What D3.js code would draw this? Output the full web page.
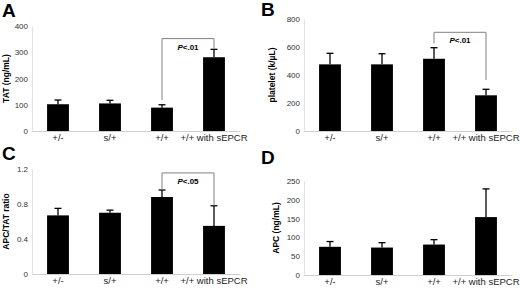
<!DOCTYPE html>
<html>
<head>
<meta charset="utf-8">
<script src="https://cdn.jsdelivr.net/npm/d3@7"></script>
<style>
  body { margin: 0; background: #fff; }
  svg { display: block; font-family: Arial, "Liberation Sans", Helvetica, sans-serif; }
</style>
</head>
<body>
<script>
const width = 520;
const height = 288;

// groups on the x axis of every panel
const groups = ["+/-", "s/+", "+/+", "+/+ with sEPCR"];

// A: TAT
const tatMean = [102, 105, 89, 281];
const tatErr = [16, 12, 11, 30];
const tatTicks = [0, 100, 200, 300, 400];

// B: platelets
const plateletMean = [476, 476, 516, 255];
const plateletErr = [79, 76, 79, 43];
const plateletTicks = [0, 200, 400, 600, 800];

// C: APC/TAT ratio
const ratioMean = [0.67, 0.70, 0.88, 0.55];
const ratioErr = [0.08, 0.03, 0.08, 0.23];
const ratioTicks = [0, 0.4, 0.8, 1.2];

// D: APC
const apcMean = [75, 73, 81, 154];
const apcErr = [14, 13, 13, 75];
const apcTicks = [0, 50, 100, 150, 200, 250];

// significance brackets: [from, to, top, left foot, right foot, text]
const tatBracket = [2, 3, 352, 118, 311, "P<.01"];
const plateletBracket = [2, 3, 705, 626, 364, "P<.01"];
const ratioBracket = [2, 3, 1.155, 0.96, 0.78, "P<.05"];

var svg = d3.select("body").append("svg")
  .attr("width", width)
  .attr("height", height);

svg.append("rect").attr("width", width).attr("height", height).attr("fill", "#fff");

var panels = [
  { letter: "A", lx: 2, ly: 17, left: 32, right: 240, bottom: 131, top: 26,
    ticks: tatTicks, mean: tatMean, err: tatErr, title: "TAT (ng/mL)", tx: 9, bracket: tatBracket,
    fmt: d3.format("d") },
  { letter: "B", lx: 261, ly: 16, left: 304, right: 512, bottom: 131, top: 19,
    ticks: plateletTicks, mean: plateletMean, err: plateletErr, title: "platelet (k/\u00b5L)", tx: 275, bracket: plateletBracket,
    fmt: d3.format("d") },
  { letter: "C", lx: 2, ly: 160, left: 32, right: 240, bottom: 274, top: 169,
    ticks: ratioTicks, mean: ratioMean, err: ratioErr, title: "APC/TAT ratio", tx: 9, bracket: ratioBracket,
    fmt: d => d === 0 ? "0" : d3.format(".1f")(d) },
  { letter: "D", lx: 261, ly: 164, left: 304, right: 512, bottom: 275, top: 181,
    ticks: apcTicks, mean: apcMean, err: apcErr, title: "APC (ng/mL)", tx: 279, bracket: null,
    fmt: d3.format("d") }
];

panels.forEach(function(p) {
  var g = svg.append("g");

  var x = d3.scaleBand()
    .domain(groups)
    .range([p.left, p.right])
    .paddingInner(0.58)
    .paddingOuter(0.29);

  var y = d3.scaleLinear()
    .domain([0, p.ticks[p.ticks.length - 1]])
    .range([p.bottom, p.top]);

  // panel letter
  g.append("text")
    .attr("x", p.lx).attr("y", p.ly)
    .attr("font-size", 19).attr("font-weight", "bold")
    .text(p.letter);

  // y axis
  var yAxis = g.append("g")
    .attr("transform", "translate(" + p.left + ",0)")
    .call(d3.axisLeft(y).tickValues(p.ticks).tickFormat(p.fmt).tickSize(0).tickPadding(4));
  yAxis.select(".domain").attr("stroke", "#e2e2e2");
  yAxis.selectAll("text").attr("font-size", 8).attr("fill", "#333").attr("font-family", null);

  // x axis
  var xAxis = g.append("g")
    .attr("transform", "translate(0," + p.bottom + ")")
    .call(d3.axisBottom(x).tickSize(0).tickPadding(3));
  xAxis.select(".domain").attr("stroke", "#cfcfcf");
  xAxis.selectAll("text").attr("font-size", 9.5).attr("fill", "#222").attr("font-family", null);

  // y title
  g.append("text")
    .attr("transform", "translate(" + p.tx + "," + y(p.ticks[p.ticks.length - 1] / 2) + ") rotate(-90)")
    .attr("text-anchor", "middle")
    .attr("font-size", 8.5).attr("font-weight", "bold")
    .text(p.title);

  // bars
  g.selectAll(".bar")
    .data(p.mean)
    .join("rect")
    .attr("x", (d, i) => x(groups[i]))
    .attr("width", x.bandwidth())
    .attr("y", d => y(d))
    .attr("height", d => y(0) - y(d))
    .attr("fill", "#000");

  // error bars (upper only)
  p.mean.forEach(function(d, i) {
    var cx = x(groups[i]) + x.bandwidth() / 2;
    var yt = y(d + p.err[i]);
    g.append("line")
      .attr("x1", cx).attr("x2", cx)
      .attr("y1", y(d)).attr("y2", yt)
      .attr("stroke", "#000").attr("stroke-width", 1.3);
    g.append("line")
      .attr("x1", cx - 3.5).attr("x2", cx + 3.5)
      .attr("y1", yt).attr("y2", yt)
      .attr("stroke", "#000").attr("stroke-width", 1.3);
  });

  // bracket
  if (p.bracket) {
    var b = p.bracket;
    var x1 = x(groups[b[0]]) + x.bandwidth() / 2;
    var x2 = x(groups[b[1]]) + x.bandwidth() / 2;
    g.append("path")
      .attr("d", "M" + x1 + "," + y(b[3]) + "V" + y(b[2]) + "H" + x2 + "V" + y(b[4]))
      .attr("fill", "none")
      .attr("stroke", "#808080").attr("stroke-width", 1);
    var t = g.append("text")
      .attr("x", (x1 + x2) / 2).attr("y", y(b[2]) + 11)
      .attr("text-anchor", "middle")
      .attr("font-size", 8).attr("font-weight", "bold");
    t.append("tspan").attr("font-style", "italic").text(b[5].slice(0, 1));
    t.append("tspan").text(b[5].slice(1));
  }
});
</script>
</body>
</html>
